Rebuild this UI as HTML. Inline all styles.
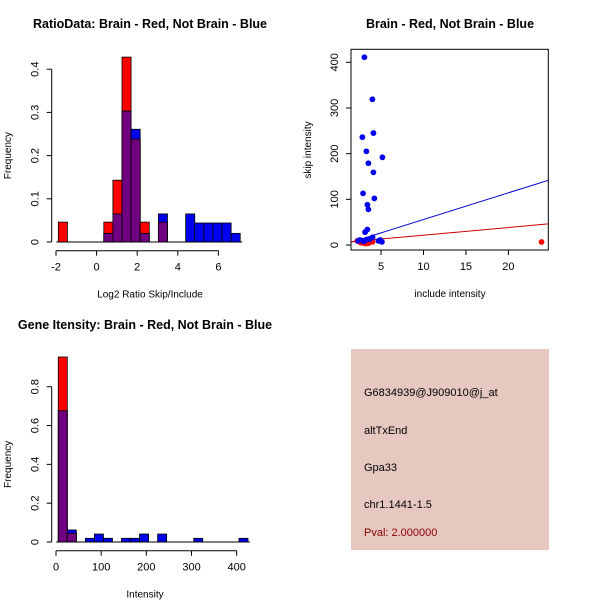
<!DOCTYPE html>
<html><head><meta charset="utf-8"><style>
body{margin:0;background:#fff}
svg{display:block;font-family:"Liberation Sans",sans-serif}
</style></head><body>
<svg id="c" width="600" height="600" viewBox="0 0 600 600">
<rect width="600" height="600" fill="#fff"/>
<g id="p1"></g>
<g id="p2"></g>
<g id="p3"></g>
<g id="p4">
<rect x="351" y="349" width="198" height="201" fill="#e6c8c1"/>
<text x="364" y="396" font-size="11" fill="#000">G6834939@J909010@j_at</text>
<text x="364" y="434" font-size="11" fill="#000">altTxEnd</text>
<text x="364" y="471" font-size="11" fill="#000">Gpa33</text>
<text x="364" y="508" font-size="11" fill="#000">chr1.1441-1.5</text>
<text x="364" y="536" font-size="11" fill="#8b0000">Pval: 2.000000</text>
</g>
</svg>
<script>
// Ratio histogram data
const ratioBreakStart = -1.885, ratioBinWidth = 0.448;
const ratioRed =  [0.046,0,0,0,0,0.046,0.143,0.428,0.238,0.046,0,0.046,0,0,0,0,0,0,0,0];
const ratioBlue = [0,0,0,0,0,0.02,0.065,0.303,0.261,0.02,0,0.065,0,0,0.065,0.044,0.044,0.044,0.044,0.02];
const ratioXTicks = [-2,0,2,4,6];
const ratioYTicks = [0,0.1,0.2,0.3,0.4];
// Intensity histogram data
const intBreakStart = 5, intBinWidth = 20;
const intRed =  [0.953,0.045,0,0,0,0,0,0,0,0,0,0,0,0,0,0,0,0,0,0,0];
const intBlue = [0.676,0.062,0,0.019,0.041,0.019,0,0.019,0.019,0.041,0,0.041,0,0,0,0.019,0,0,0,0,0.019];
const intXTicks = [0,100,200,300,400];
const intYTicks = [0,0.2,0.4,0.6,0.8];
// Scatter data
const blueX = [3.04,3.98,2.80,4.10,3.27,5.16,3.51,4.10,2.88,4.21,3.39,3.51,3.39,3.12,2.7,4.0,3.7,2.5,4.9,5.1,4.7,3.0,3.3,2.3];
const blueY = [411,319,236,245,205,192,179,159,113,102,88,78,34,28,10,17,13,11,11,7,9,8,12,9];
const redX = [23.9,2.2,2.6,3.0,3.4,3.8,2.8,3.2,3.6,4.0,2.4,3.5];
const redY = [6.6,9,5,4,6,8,7,3,5,7,10,4];
const blueLine = [-2.6,5.84];
const redLine = [4.9,1.67];
const scXTicks = [5,10,15,20];
const scYTicks = [0,100,200,300,400];

const NS="http://www.w3.org/2000/svg";
function el(parent,tag,attrs,txt){const e=document.createElementNS(NS,tag);for(const k in attrs)e.setAttribute(k,attrs[k]);if(txt!==undefined)e.textContent=txt;parent.appendChild(e);return e;}

function histogram(g,title,xlab,bs,bw,red,blue,xt,yt,sx,sy,axisY,yAxisX,titleX,titleY){
  const t=el(g,'text',{x:titleX,y:titleY,'font-size':12.5,'font-weight':'bold','text-anchor':'middle'},title);
  
  for(let k=0;k<red.length;k++){
    const x0=sx(bs+k*bw), x1=sx(bs+(k+1)*bw);
    const r=red[k], b=blue[k], m=Math.min(r,b);
    if(r>0){const e=el(g,'rect',{x:x0,y:sy(r),width:x1-x0,height:sy(0)-sy(r),fill:'#ff0000',stroke:'#000','stroke-width':0.8});
      }
    if(b>0){const e=el(g,'rect',{x:x0,y:sy(b),width:x1-x0,height:sy(0)-sy(b),fill:'#0000ee',stroke:'#000','stroke-width':0.8});
      }
    if(m>0){const e=el(g,'rect',{x:x0,y:sy(m),width:x1-x0,height:sy(0)-sy(m),fill:'#700080',stroke:'#000','stroke-width':0.8});
      }
  }
  el(g,'line',{x1:sx(bs)-2,x2:sx(bs+red.length*bw)+2,y1:sy(0),y2:sy(0),stroke:'#000'});
  el(g,'line',{x1:sx(xt[0]),x2:sx(xt[xt.length-1]),y1:axisY,y2:axisY,stroke:'#000'});
  xt.forEach(v=>{el(g,'line',{x1:sx(v),x2:sx(v),y1:axisY,y2:axisY+5,stroke:'#000'});
    const e=el(g,'text',{x:sx(v),y:axisY+20,'font-size':11,'text-anchor':'middle'},String(v));
    });
  el(g,'line',{x1:yAxisX,x2:yAxisX,y1:sy(yt[0]),y2:sy(yt[yt.length-1]),stroke:'#000'});
  yt.forEach(v=>{el(g,'line',{x1:yAxisX,x2:yAxisX-5,y1:sy(v),y2:sy(v),stroke:'#000'});
    const e=el(g,'text',{x:yAxisX-13,y:sy(v),'font-size':11,'text-anchor':'middle',transform:`rotate(-90 ${yAxisX-13} ${sy(v)})`},String(v));
    });
  const xl=el(g,'text',{x:titleX,y:axisY+47,'font-size':10,'text-anchor':'middle'},xlab);
  
  const cy=(sy(yt[0])+sy(yt[yt.length-1]))/2;
  const yl=el(g,'text',{x:11,y:cy,'font-size':10,'text-anchor':'middle',transform:`rotate(-90 11 ${cy})`},'Frequency');
  
}

histogram(document.getElementById('p1'),'RatioData: Brain - Red, Not Brain - Blue','Log2 Ratio Skip/Include',
  ratioBreakStart,ratioBinWidth,ratioRed,ratioBlue,ratioXTicks,ratioYTicks,
  v=>56+(v+2)*20.3, v=>242-v*432, 250.7, 51.7, 150, 28);
histogram(document.getElementById('p3'),'Gene Itensity: Brain - Red, Not Brain - Blue','Intensity',
  intBreakStart,intBinWidth,intRed,intBlue,intXTicks,intYTicks,
  v=>56+v*0.4517, v=>542-v*194.1, 550.7, 51.7, 145, 329);

// Scatter
(function(){
  const g=document.getElementById('p2');
  const sx=v=>338.6+v*8.49, sy=v=>245-v*0.4568;
  const L=351,R=548.3,T=49.3,B=250;
  const t=el(g,'text',{x:450,y:28,'font-size':12.5,'font-weight':'bold','text-anchor':'middle'},'Brain - Red, Not Brain - Blue');
  
  const box=el(g,'rect',{x:L,y:T,width:R-L,height:B-T,fill:'none',stroke:'#000'});
  
  const x0=(L-338.6)/8.49, x1=(R-338.6)/8.49;
  const bl=el(g,'line',{x1:L,y1:sy(blueLine[0]+blueLine[1]*x0),x2:R,y2:sy(blueLine[0]+blueLine[1]*x1),stroke:'#0000cc'});
  
  const rl=el(g,'line',{x1:L,y1:sy(redLine[0]+redLine[1]*x0),x2:R,y2:sy(redLine[0]+redLine[1]*x1),stroke:'#cc0000'});
  
  redX.forEach((v,i)=>{const c=el(g,'circle',{cx:sx(v),cy:sy(redY[i]),r:2.9,fill:'#ff0000'});
    });
  blueX.forEach((v,i)=>{const c=el(g,'circle',{cx:sx(v),cy:sy(blueY[i]),r:2.9,fill:'#0000ee'});
    });
  scXTicks.forEach(v=>{el(g,'line',{x1:sx(v),x2:sx(v),y1:B,y2:B+5,stroke:'#000'});
    const e=el(g,'text',{x:sx(v),y:B+20,'font-size':11,'text-anchor':'middle'},String(v));
    });
  scYTicks.forEach(v=>{el(g,'line',{x1:L,x2:L-5,y1:sy(v),y2:sy(v),stroke:'#000'});
    const e=el(g,'text',{x:L-13,y:sy(v),'font-size':11,'text-anchor':'middle',transform:`rotate(-90 ${L-13} ${sy(v)})`},String(v));
    });
  const xl=el(g,'text',{x:450,y:297,'font-size':10,'text-anchor':'middle'},'include intensity');
  
  const yl=el(g,'text',{x:311,y:150,'font-size':10,'text-anchor':'middle',transform:'rotate(-90 311 150)'},'skip intensity');
  
})();
</script>
</body></html>
